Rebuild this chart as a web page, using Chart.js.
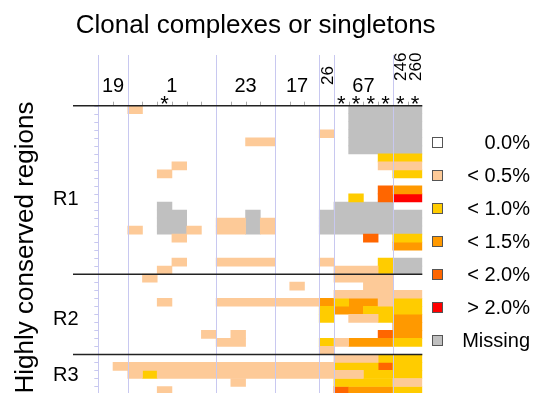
<!DOCTYPE html>
<html>
<head>
<meta charset="utf-8">
<script src="https://cdn.jsdelivr.net/npm/chart.js@4.4.0/dist/chart.umd.min.js"></script>
<style>
  html, body { margin: 0; padding: 0; background: #fff; overflow: hidden; }
</style>
</head>
<body>
<canvas id="heatmap" width="538" height="396"></canvas>
<script>
// colunas: complexos clonais ou singletons
const ccLabels = ['19', '1', '23', '17', '26', '67', ['246', '260']];
const ccSizes = [2, 6, 4, 3, 1, 4, 2];
const starredCols = [4, 16, 17, 18, 19, 20, 21];

const regionLabels = ['R1', 'R2', 'R3'];

// . = 0.0%, a < 0.5%, b < 1.0%, c < 1.5%, d < 2.0%, e > 2.0%, m = missing
// "|" separa os grupos de colunas
const r1Rows = [
    '..|a.....|....|...|.|.mmm|mm',
    '..|......|....|...|.|.mmm|mm',
    '..|......|....|...|.|.mmm|mm',
    '..|......|....|...|a|.mmm|mm',
    '..|......|..aa|...|.|.mmm|mm',
    '..|......|....|...|.|.mmm|mm',
    '..|......|....|...|.|...b|bb',
    '..|...a..|....|...|.|...a|aa',
    '..|..a...|....|...|.|....|bb',
    '..|......|....|...|.|....|..',
    '..|......|....|...|.|...d|cc',
    '..|......|....|...|.|.b.d|ee',
    '..|..m...|....|...|.|mmmm|..',
    '..|..mm..|..m.|...|m|mmmm|mm',
    '..|..mm..|aama|...|m|mmmm|mm',
    '..|a.mma.|aama|...|m|mmmm|mm',
    '..|...a..|....|...|.|..d.|bb',
    '..|......|....|...|.|....|cc',
    '..|......|....|...|.|....|..',
    '..|...a..|aaaa|...|a|...b|mm',
    '..|..a...|....|...|.|aaab|mm'
];
const r2Rows = [
    '..|.a....|....|...|.|aaaa|..',
    '..|......|....|.a.|.|..aa|..',
    '..|......|....|...|.|aaaa|aa',
    '..|..a...|aaaa|aaa|c|bcca|bb',
    '..|......|....|...|b|ccbb|bb',
    '..|......|....|...|b|.aab|cc',
    '..|......|....|...|.|....|cc',
    '..|.....a|.a..|...|.|...d|cc',
    '..|......|aa..|...|b|accc|bb',
    '..|......|....|...|a|....|..'
];
const r3Rows = [
    '..|......|....|...|.|aaab|bb',
    '.a|aaaaaa|aaaa|aaa|a|bbbd|bb',
    '..|abaaaa|aaaa|aaa|a|aabb|bb',
    '..|......|.a..|...|.|bbbb|aa',
    '..|..a...|....|...|.|dccc|bb'
];

const levelCodes = ['.', 'a', 'b', 'c', 'd', 'e', 'm'];
const levelLabels = ['0.0%', '< 0.5%', '< 1.0%', '< 1.5%', '< 2.0%', '> 2.0%', 'Missing'];
const levelColors = ['#ffffff', '#fdca98', '#ffcc00', '#ff9900', '#ff6600', '#ff0000', '#c0c0c0'];

const FONT = '"Liberation Sans", Arial, sans-serif';
const LAVENDER = '#c8c8f0';

const regions = [r1Rows, r2Rows, r3Rows];
const allRows = [].concat(...regions).map(s => s.replace(/\|/g, ''));
const rowLabels = allRows.map((_, i) => String(i));
const nCols = ccSizes.reduce((a, b) => a + b, 0);

// cada celula vira uma barra flutuante [inicio, fim] na sua linha
const datasets = levelCodes.map((code, k) => {
    const data = [];
    allRows.forEach((row, r) => {
        let c = 0;
        while (c < row.length) {
            if (row[c] !== code) { c++; continue; }
            let end = c;
            while (end < row.length && row[end] === code) end++;
            data.push({ x: [c, end], y: rowLabels[r] });
            c = end;
        }
    });
    return {
        label: levelLabels[k],
        data: data,
        backgroundColor: levelColors[k],
        grouped: false,
        categoryPercentage: 1,
        barPercentage: 1
    };
}).filter((ds, k) => levelCodes[k] !== '.');

const decor = {
    id: 'decor',
    beforeDraw(chart) {
        const ctx = chart.ctx;
        ctx.save();
        ctx.fillStyle = '#fff';
        ctx.fillRect(0, 0, chart.width, chart.height);
        ctx.restore();
    },
    afterDatasetsDraw(chart) {
        const { ctx, chartArea: a, scales: { x, y } } = chart;
        const rowTop = i => y.getPixelForValue(i - 0.5);
        ctx.save();

        // linhas dos grupos
        const bounds = [0];
        ccSizes.forEach(s => bounds.push(bounds[bounds.length - 1] + s));
        ctx.strokeStyle = LAVENDER;
        ctx.lineWidth = 1;
        bounds.slice(0, -1).forEach(b => {
            const px = Math.round(x.getPixelForValue(b)) + 0.5;
            ctx.beginPath();
            ctx.moveTo(px, 55);
            ctx.lineTo(px, chart.height);
            ctx.stroke();
        });

        // ticks da esquerda
        for (let i = 0; i <= allRows.length; i++) {
            const py = Math.round(rowTop(i)) + 0.5;
            ctx.beginPath();
            ctx.moveTo(a.left - 4, py);
            ctx.lineTo(a.left, py);
            ctx.stroke();
        }

        // ticks de cima
        ctx.strokeStyle = '#aaaaaa';
        for (let c = 1; c < nCols; c++) {
            if (bounds.includes(c)) continue;
            const px = Math.round(x.getPixelForValue(c)) + 0.5;
            ctx.beginPath();
            ctx.moveTo(px, a.top - 4);
            ctx.lineTo(px, a.top);
            ctx.stroke();
        }

        // separacao das regioes
        ctx.strokeStyle = '#222';
        ctx.lineWidth = 1.5;
        let start = 0;
        const labelOffset = [11, 5, 2];
        regions.forEach((rows, k) => {
            const py = rowTop(start);
            ctx.beginPath();
            ctx.moveTo(73, py);
            ctx.lineTo(a.right, py);
            ctx.stroke();

            ctx.fillStyle = '#000';
            ctx.font = '20px ' + FONT;
            ctx.textAlign = 'left';
            ctx.textBaseline = 'alphabetic';
            ctx.fillText(regionLabels[k], 53, y.getPixelForValue(start + labelOffset[k]) + 7);
            start += rows.length;
        });

        // nomes das colunas
        ctx.fillStyle = '#000';
        ccLabels.forEach((lab, g) => {
            const c0 = bounds[g];
            if (Array.isArray(lab) || ccSizes[g] === 1) {
                const labs = Array.isArray(lab) ? lab : [lab];
                labs.forEach((t, j) => {
                    const cx = x.getPixelForValue(c0 + j + 0.5);
                    ctx.save();
                    ctx.font = '17px ' + FONT;
                    ctx.translate(cx + 6, labs.length > 1 ? 81 : 85);
                    ctx.rotate(-Math.PI / 2);
                    ctx.textAlign = 'left';
                    ctx.fillText(t, 0, 0);
                    ctx.restore();
                });
            } else {
                ctx.font = '20px ' + FONT;
                ctx.textAlign = 'center';
                ctx.fillText(lab, x.getPixelForValue(c0 + ccSizes[g] / 2), 91.7);
            }
        });

        // asteriscos
        ctx.font = '22px ' + FONT;
        ctx.textAlign = 'center';
        starredCols.forEach(c => {
            ctx.fillText('*', x.getPixelForValue(c + 0.5), 110.5);
        });

        // titulos
        ctx.font = '26px ' + FONT;
        ctx.fillText('Clonal complexes or singletons', 255.7, 32.7);
        ctx.save();
        ctx.translate(33, 247.5);
        ctx.rotate(-Math.PI / 2);
        ctx.fillText('Highly conserved regions', 0, 0);
        ctx.restore();

        // legenda
        ctx.lineWidth = 1;
        levelLabels.forEach((lab, k) => {
            const cy = 142 + k * 33;
            ctx.fillStyle = levelColors[k];
            ctx.fillRect(432, cy - 5, 10, 10);
            ctx.strokeStyle = '#555';
            ctx.strokeRect(432.5, cy - 4.5, 10, 10);
            ctx.fillStyle = '#000';
            ctx.font = '20px ' + FONT;
            ctx.textAlign = 'right';
            ctx.fillText(lab, 530, cy + 7);
        });

        ctx.restore();
    }
};

new Chart(document.getElementById('heatmap').getContext('2d'), {
    type: 'bar',
    data: { labels: rowLabels, datasets: datasets },
    options: {
        indexAxis: 'y',
        responsive: false,
        animation: false,
        events: [],
        layout: { padding: { left: 98.3, right: 538 - 422.3, top: 105.7, bottom: 1.5 } },
        scales: {
            x: { type: 'linear', min: 0, max: nCols, display: false },
            y: { type: 'category', display: false }
        },
        plugins: {
            legend: { display: false },
            tooltip: { enabled: false }
        }
    },
    plugins: [decor]
});
</script>
</body>
</html>
